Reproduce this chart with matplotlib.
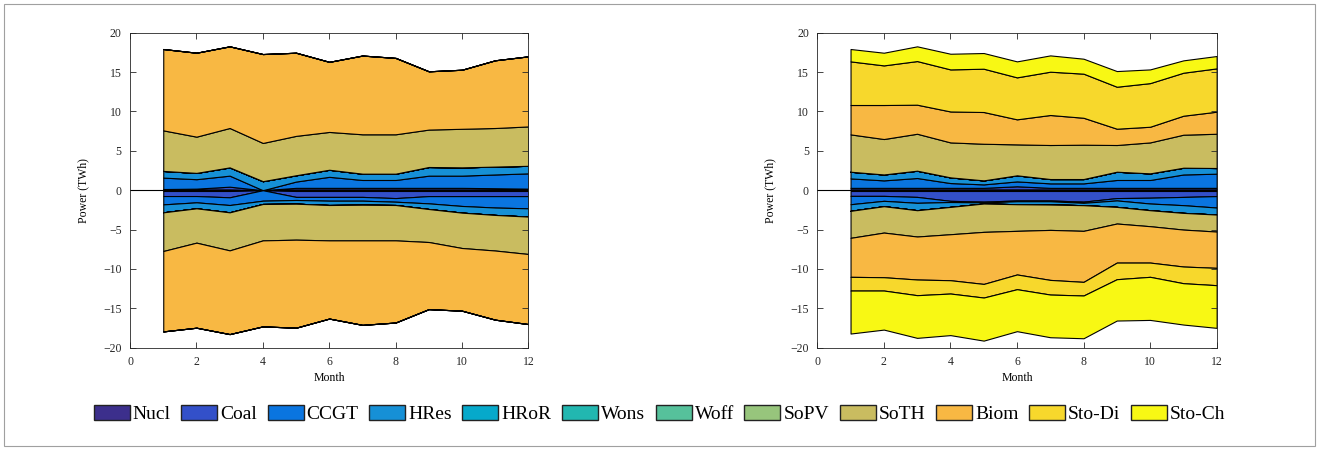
import matplotlib
matplotlib.use("Agg")
import matplotlib.pyplot as plt
import numpy as np
from matplotlib.patches import Patch, Rectangle

plt.rcParams['font.family'] = ['Liberation Serif', 'DejaVu Serif']

months = np.arange(1, 13)
techs = ['Nucl', 'Coal', 'CCGT', 'HRes', 'HRoR', 'Wons', 'Woff', 'SoPV',
         'SoTH', 'Biom', 'Sto-Di', 'Sto-Ch']
colors = ['#3c2f8c', '#3350c9', '#0a75e0', '#1690d6', '#06a9cb', '#22b7b0',
          '#56c19b', '#97c57c', '#c9bc60', '#f8b843', '#f7d82c', '#f8f814']
zero = [0] * 12

# left panel - generation (positive) per technology
left_gen = {
    'Nucl': [0.1, 0.1, 0.1, 0, 0.1, 0.1, 0.1, 0.1, 0.1, 0.1, 0.1, 0.1],
    'Coal': [0.05, 0.1, 0.35, 0, 0.2, 0.2, 0.2, 0.2, 0.2, 0.2, 0.15, 0.1],
    'CCGT': [1.45, 1.2, 1.4, 0, 0.8, 1.4, 1.0, 1.0, 1.55, 1.55, 1.75, 1.94],
    'HRes': [0.85, 0.8, 1.05, 1.15, 0.8, 0.9, 0.8, 0.8, 1.1, 1.05, 1.0, 0.96],
    'SoTH': [5.15, 4.6, 5.0, 4.85, 5.0, 4.8, 5.0, 5.0, 4.75, 4.9, 4.9, 5.0],
    'Biom': [10.33, 10.66, 10.37, 11.29, 10.56, 8.9, 10.0, 9.7, 7.4, 7.5, 8.6, 8.9],
}
# left panel - demand side (negative)
left_dem = {
    'Nucl': [-0.1, -0.1, -0.1, 0, -0.1, -0.1, -0.1, -0.1, -0.1, -0.1, -0.1, -0.1],
    'Coal': [-0.64, -0.64, -0.8, 0, -0.75, -0.75, -0.75, -0.9, -0.65, -0.65, -0.65, -0.65],
    'CCGT': [-1.06, -0.8, -0.98, -1.33, -0.39, -0.48, -0.48, -0.46, -0.92, -1.25, -1.45, -1.55],
    'HRes': [-1.01, -0.76, -0.93, -0.42, -0.47, -0.55, -0.51, -0.42, -0.72, -0.85, -0.94, -1.05],
    'SoTH': [-4.91, -4.36, -4.83, -4.62, -4.57, -4.49, -4.53, -4.49, -4.19, -4.49, -4.52, -4.75],
    'Biom': [-10.21, -10.8, -10.63, -10.92, -11.18, -9.93, -10.73, -10.43, -8.52, -7.96, -8.78, -8.9],
}
# right panel - with storage
right_gen = {
    'Nucl': [0.1] * 12,
    'Coal': [0.2, 0.2, 0.2, 0.2, 0.2, 0.4, 0.2, 0.2, 0.2, 0.2, 0.2, 0.2],
    'CCGT': [1.2, 0.95, 1.25, 0.61, 0.44, 0.62, 0.57, 0.57, 1.0, 1.0, 1.7, 1.8],
    'HRes': [0.85, 0.75, 0.93, 0.72, 0.51, 0.77, 0.55, 0.55, 1.05, 0.84, 0.86, 0.72],
    'SoTH': [4.74, 4.5, 4.69, 4.44, 4.65, 3.93, 4.32, 4.36, 3.39, 3.93, 4.19, 4.35],
    'Biom': [3.73, 4.32, 3.69, 3.93, 4.03, 3.18, 3.81, 3.42, 2.07, 1.99, 2.41, 2.8],
    'Sto-Di': [5.54, 5.03, 5.54, 5.34, 5.5, 5.33, 5.5, 5.6, 5.33, 5.54, 5.46, 5.5],
    'Sto-Ch': [1.57, 1.61, 1.87, 1.99, 1.99, 2.03, 2.07, 1.9, 1.99, 1.74, 1.57, 1.57],
}
right_dem = {
    'Nucl': [-0.1] * 12,
    'Coal': [-0.62, -0.62, -0.75, -1.25, -1.35, -1.2, -1.2, -1.35, -0.9, -0.85, -0.75, -0.65],
    'CCGT': [-1.06, -0.63, -0.75, -0.15, -0.1, -0.1, -0.1, -0.15, -0.3, -0.74, -1.05, -1.45],
    'HRes': [-0.84, -0.68, -0.94, -0.62, -0.14, -0.38, -0.42, -0.3, -0.82, -0.85, -0.98, -0.89],
    'SoTH': [-3.43, -3.35, -3.34, -3.47, -3.6, -3.38, -3.22, -3.26, -2.11, -2.03, -2.12, -2.16],
    'Biom': [-4.95, -5.67, -5.46, -5.84, -6.61, -5.54, -6.35, -6.48, -4.96, -4.62, -4.69, -4.61],
    'Sto-Di': [-1.74, -1.69, -1.99, -1.69, -1.73, -1.87, -1.86, -1.73, -2.11, -1.81, -2.12, -2.2],
    'Sto-Ch': [-5.46, -4.96, -5.42, -5.28, -5.47, -5.33, -5.42, -5.43, -5.25, -5.47, -5.25, -5.42],
}


def stack(ax, data):
    ys = [data.get(t, zero) for t in techs]
    ax.stackplot(months, ys, colors=colors, edgecolor='k', linewidth=0.8)


fig = plt.figure(figsize=(13.19, 4.5), dpi=100)
fig.patches.append(Rectangle((0.003, 0.008), 0.994, 0.984, transform=fig.transFigure,
                             fill=False, edgecolor='#a0a0a0', linewidth=0.8))

ax1 = fig.add_axes([0.0986, 0.2273, 0.302, 0.70])
ax2 = fig.add_axes([0.6196, 0.2273, 0.3028, 0.70])

for ax, gen, dem in [(ax1, left_gen, left_dem), (ax2, right_gen, right_dem)]:
    stack(ax, gen)
    stack(ax, dem)
    ax.plot([0, 12], [0, 0], color='k', linewidth=0.8)
    ax.set_xlim(0, 12)
    ax.set_ylim(-20, 20)
    ax.set_xticks(range(0, 13, 2))
    ax.set_yticks(range(-20, 21, 5))
    ax.tick_params(direction='in', top=True, right=True, labelsize=8.5,
                   colors='#262626', length=4, width=0.6, pad=6)
    for s in ax.spines.values():
        s.set_color('#262626')
        s.set_linewidth(0.6)
    ax.set_xlabel('Month', fontsize=8.5, labelpad=3)
    ax.set_ylabel('Power (TWh)', fontsize=8.5, labelpad=10)

handles = [Patch(facecolor=c, edgecolor='#222222', linewidth=1.0) for c in colors]
fig.legend(handles, techs, loc='center', bbox_to_anchor=(0.5, 0.08), ncol=12,
           frameon=False, fontsize=14, handlelength=1.85, handleheight=0.85,
           handletextpad=0.15, columnspacing=0.55)

fig.savefig('out.png', dpi=100)
